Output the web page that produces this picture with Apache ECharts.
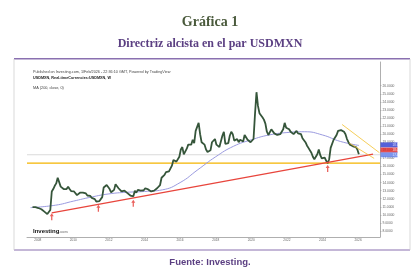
<!DOCTYPE html>
<html>
<head>
<meta charset="utf-8">
<script src="https://cdn.jsdelivr.net/npm/echarts@6/dist/echarts.min.js"></script>
<style>html,body{margin:0;padding:0;background:#fff;}#c{width:420px;height:280px;}</style>
</head>
<body>
<div id="c"></div>
<script>
// ---- Data ----
const startYear = 2007, startMonth = 9; // monthly series, Sep 2007 .. Jan 2026
const closes = [
  10.95, 10.78, 10.95, 10.90,
  10.85, 10.75, 10.70, 10.55, 10.40, 10.35, 10.10, 10.05, 10.60, 12.90, 13.20, 13.60,
  13.90, 14.60, 14.80, 13.50, 13.30, 13.20, 13.30, 13.20, 13.50, 13.20, 12.95, 13.00,
  12.90, 12.95, 12.45, 12.25, 12.75, 12.80, 12.75, 12.90, 12.65, 12.40, 12.40, 12.35,
  12.10, 12.05, 11.95, 11.65, 11.60, 11.70, 11.65, 12.20, 13.40, 13.40, 13.70, 13.90,
  13.20, 12.80, 12.75, 13.10, 13.80, 13.80, 13.30, 13.20, 12.90, 12.95, 13.00, 12.90,
  12.70, 12.75, 12.40, 12.20, 12.30, 13.00, 12.75, 13.10, 13.20, 13.00, 13.05, 13.05,
  13.30, 13.30, 13.15, 13.05, 12.90, 13.00, 13.00, 13.20, 13.30, 13.50, 13.70, 14.60,
  14.80, 14.95, 15.30, 15.20, 15.40, 15.60, 16.10, 16.80, 16.90, 16.60, 16.60, 17.20,
  18.10, 18.40, 17.50, 17.40, 18.20, 18.70, 18.70, 18.70, 19.30, 18.90, 20.40, 20.60,
  21.40, 20.00, 19.00, 18.80, 18.70, 18.10, 17.80, 17.80, 18.00, 19.00, 18.80, 19.40,
  18.70, 18.70, 18.40, 18.60, 19.80, 20.30, 18.80, 18.90, 18.90, 19.80, 20.30, 20.00,
  19.20, 19.20, 19.40, 19.00, 19.30, 19.30, 19.10, 19.90, 19.70, 19.30, 19.50, 19.00,
  18.80, 19.40, 22.50, 25.20, 23.50, 22.60, 22.40, 22.10, 21.80, 21.30, 20.30, 19.90,
  20.00, 20.60, 20.80, 20.10, 20.00, 19.90, 19.90, 20.00, 20.20, 20.60, 21.40, 20.80,
  20.70, 20.60, 20.30, 20.10, 20.00, 20.20, 20.40, 20.10, 20.10, 20.00, 19.50, 19.50,
  19.00, 18.60, 18.30, 18.10, 17.70, 17.20, 16.90, 17.00, 17.50, 18.10, 17.40, 17.00,
  17.10, 17.10, 16.70, 16.40, 16.90, 18.30, 18.20, 19.30, 19.50, 19.90, 20.40, 20.30,
  20.50, 20.70, 20.30, 20.00, 19.40, 19.00, 18.70, 18.70, 18.50, 18.40, 18.40, 18.10,
  17.50
];
const maYears  = [2007.6, 2009, 2010, 2011, 2012, 2013, 2014, 2015, 2016, 2017, 2018, 2019, 2020, 2021, 2022, 2023, 2024, 2025, 2026.05];
const maValues = [10.9, 11.2, 11.7, 12.2, 12.6, 12.8, 12.9, 13.1, 14.0, 15.6, 17.2, 18.5, 19.3, 19.9, 20.2, 20.3, 19.9, 19.1, 18.6];
const trendYears  = [2008.79, 2026.84];
const trendValues = [10.26, 17.54];
const wedgeUpperYears = [2025.1, 2027.2], wedgeUpperValues = [21.2, 17.7];
const wedgeLowerYears = [2025.5, 2026.9], wedgeLowerValues = [18.9, 17.0];
const supportLevel = 16.4;
const lastPriceLevel = 17.45;
const arrowYears  = [2008.79, 2011.41, 2013.37, 2024.29];
const arrowValues = [9.77, 10.81, 11.43, 15.76];
const tagValues = [18.67, 18.03, 17.44];
const tagLabels = ['18.6700', '18.0300', '17.4400'];
const tagColors = ['#2b3ad0', '#e02424', '#5b7be8'];
const xTicks = [2008, 2010, 2012, 2014, 2016, 2018, 2020, 2022, 2024, 2026];
const yTicks = [8,9,10,11,12,13,14,15,16,17,18,19,20,21,22,23,24,25,26];
const xMin = 2007.4, xMax = 2027.23, yMin = 7.26, yMax = 28.94;

const months = closes.map((_, i) => startYear + (startMonth - 1 + i + 0.5) / 12);
const zip = (a, b) => a.map((v, i) => [v, b[i]]);

const purple = '#5b3f82';
const chart = echarts.init(document.getElementById('c'), null, {renderer: 'canvas'});
chart.setOption({
  backgroundColor: '#ffffff',
  animation: false,
  title: [
    {text: 'Gráfica 1', left: 'center', top: 15, padding: 0,
     textStyle: {fontFamily: 'Liberation Serif', fontWeight: 'bold', fontSize: 14, color: '#4a5a3c'}},
    {text: 'Directriz alcista en el par USDMXN', left: 'center', top: 38, padding: 0,
     textStyle: {fontFamily: 'Liberation Serif', fontWeight: 'bold', fontSize: 12, color: purple}},
    {text: 'Fuente: Investing.', left: 'center', top: 257, padding: 0,
     textStyle: {fontFamily: 'Liberation Sans', fontWeight: 'bold', fontSize: 9.5, color: purple}},
    {text: 'Published on Investing.com, 1/Feb/2026 - 22:36:10 GMT, Powered by TradingView', left: 33, top: 69.5, padding: 0,
     textStyle: {fontFamily: 'Liberation Sans', fontWeight: 'normal', fontSize: 3.75, color: '#444'}},
    {text: 'USDMXN, Real-timeCurrencies:USDMXN, W', left: 33, top: 75.8, padding: 0,
     textStyle: {fontFamily: 'Liberation Sans', fontWeight: 'bold', fontSize: 3.75, color: '#222'}},
    {text: 'MA (200, close, 0)', left: 33, top: 85.5, padding: 0,
     textStyle: {fontFamily: 'Liberation Sans', fontWeight: 'normal', fontSize: 3.8, color: '#444'}},
    {text: '{a|Investing}{b|.com}', left: 33, top: 228, padding: 0,
     textStyle: {rich: {
       a: {fontFamily: 'Liberation Sans', fontWeight: 'bold', fontSize: 6, color: '#111'},
       b: {fontFamily: 'Liberation Sans', fontSize: 3.6, color: '#888', padding: [1.5, 0, 0, 0]}}}}
  ],
  graphic: [
    {type: 'line', shape: {x1: 14, y1: 58.8, x2: 410, y2: 58.8}, style: {stroke: '#8a70b0', lineWidth: 1.6}},
    {type: 'line', shape: {x1: 14, y1: 250, x2: 410, y2: 250}, style: {stroke: '#8a70b0', lineWidth: 1.2}},
    {type: 'line', shape: {x1: 14, y1: 59, x2: 14, y2: 250}, style: {stroke: '#cfcfcf', lineWidth: 0.8}},
    {type: 'line', shape: {x1: 410, y1: 59, x2: 410, y2: 250}, style: {stroke: '#cfcfcf', lineWidth: 0.8}}
  ],
  grid: {left: 27, right: 40, top: 62, bottom: 43},
  xAxis: {
    type: 'value', min: xMin, max: xMax,
    axisLine: {lineStyle: {color: '#9a9a9a', width: 0.8}},
    axisTick: {show: false},
    splitLine: {show: false},
    axisLabel: {customValues: xTicks, formatter: v => String(Math.round(v)), fontSize: 3.2, color: '#666', margin: 2}
  },
  yAxis: {
    type: 'value', position: 'right', min: yMin, max: yMax,
    axisLine: {show: true, lineStyle: {color: '#9a9a9a', width: 0.8}},
    axisTick: {show: true, length: 1.5, customValues: yTicks, lineStyle: {color: '#9a9a9a', width: 0.6}},
    splitLine: {show: false},
    axisLabel: {customValues: yTicks, formatter: v => v.toFixed(4), fontSize: 3.3, color: '#666', margin: 2.5}
  },
  series: [
    {type: 'line', data: [[xMin, lastPriceLevel], [xMax, lastPriceLevel]], showSymbol: false, silent: true,
     lineStyle: {color: '#cccccc', width: 0.7}},
    {type: 'line', data: [[xMin, supportLevel], [xMax, supportLevel]], showSymbol: false, silent: true,
     lineStyle: {color: '#f4b400', width: 1.3}},
    {type: 'line', data: zip(maYears, maValues), smooth: true, showSymbol: false,
     lineStyle: {color: '#9b9be0', width: 1}},
    {type: 'line', data: zip(months, closes), showSymbol: false,
     lineStyle: {color: '#35553a', width: 1.8}},
    {type: 'line', data: zip(trendYears, trendValues), showSymbol: false,
     lineStyle: {color: '#e8453c', width: 1.3}},
    {type: 'line', data: zip(wedgeUpperYears, wedgeUpperValues), showSymbol: false,
     lineStyle: {color: '#f2c230', width: 0.8}},
    {type: 'line', data: zip(wedgeLowerYears, wedgeLowerValues), showSymbol: false,
     lineStyle: {color: '#f2c230', width: 0.8}},
    {type: 'scatter', data: zip(arrowYears, arrowValues),
     symbol: 'path://M5,0 L10,6 L6.6,6 L6.6,14 L3.4,14 L3.4,6 L0,6 Z', symbolSize: [4, 7],
     itemStyle: {color: '#e53935'}},
    {type: 'scatter', clip: false,
     data: tagValues.map((v, i) => ({value: [xMax, v], itemStyle: {color: tagColors[i]},
       label: {formatter: tagLabels[i]}})),
     symbol: 'rect', symbolSize: [17, 5], symbolOffset: [9, 0],
     label: {show: true, position: 'inside', offset: [9, 0], fontSize: 3, color: '#fff', fontFamily: 'Liberation Sans'}}
  ]
});
</script>
</body>
</html>
